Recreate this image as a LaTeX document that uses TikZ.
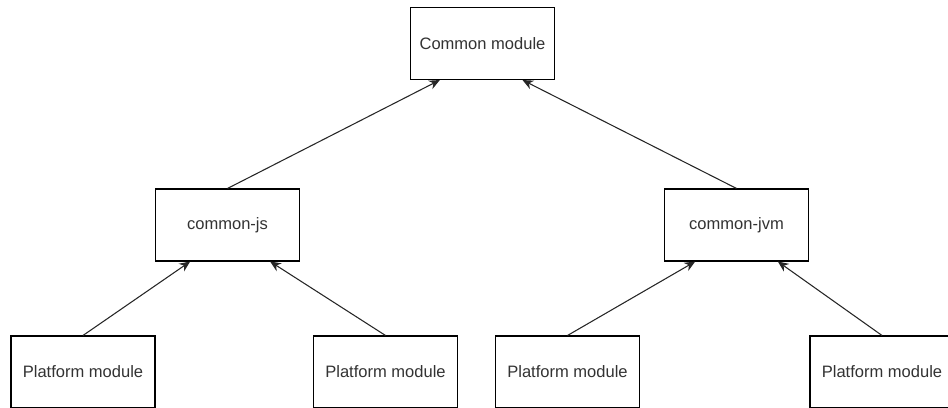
\documentclass[tikz,border=0pt]{standalone}
\usepackage{fontspec}
\setmainfont{Liberation Sans}
\usetikzlibrary{arrows.meta,positioning}
\definecolor{TextGray}{RGB}{51,51,51}

\begin{document}
\begin{tikzpicture}[
  x=0.75pt,y=-0.75pt,
  module/.style={rectangle,draw=black,fill=white,minimum width=108pt,
                 minimum height=54pt,line width=0.8pt,
                 font=\fontsize{12.4pt}{14pt}\selectfont,text=TextGray},
  dep/.style={-{Stealth[length=8pt,width=7pt]},line width=0.8pt,color=black!85},
]
\useasboundingbox (0,0) rectangle (948,407);

%% top level
\node[module] (common) at (482.5,43.5) {Common module};

%% intermediate modules
\node[module] (js)  at (227.5,225) {common-js};
\node[module] (jvm) at (736.5,225) {common-jvm};

%% platform modules
\node[module] (p1) at (83,372)    {Platform module};
\node[module] (p2) at (385.5,372) {Platform module};
\node[module] (p3) at (567.5,372) {Platform module};
\node[module] (p4) at (882,372)   {Platform module};

\draw[dep] (js.north)  -- ([xshift=-32pt]common.south);
\draw[dep] (jvm.north) -- ([xshift=30pt]common.south);
\draw[dep] (p1.north) -- ([xshift=-28pt]js.south);
\draw[dep] (p2.north) -- ([xshift=32pt]js.south);
\draw[dep] (p3.north) -- ([xshift=-31pt]jvm.south);
\draw[dep] (p4.north) -- ([xshift=31pt]jvm.south);

\end{tikzpicture}
\end{document}
